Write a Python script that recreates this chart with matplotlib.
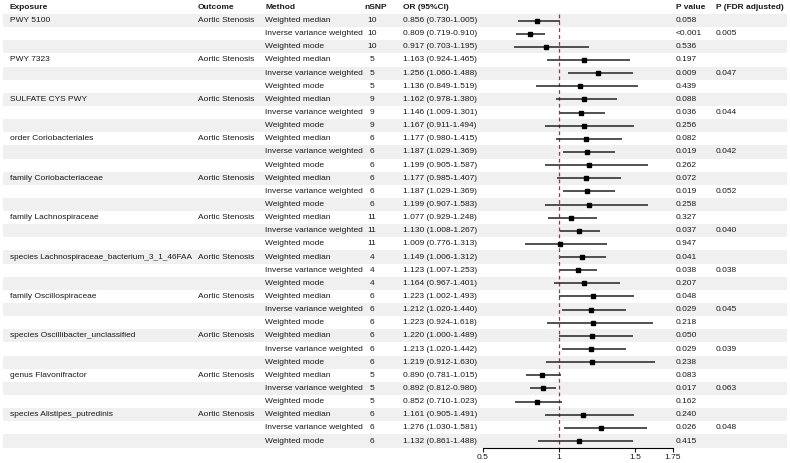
import matplotlib
matplotlib.use("Agg")
import matplotlib.pyplot as plt
import numpy as np

plt.rcParams['font.family'] = ['Liberation Sans', 'DejaVu Sans']

# data
exposures = ["PWY 5100", "PWY 7323", "SULFATE CYS PWY", "order Coriobacteriales",
             "family Coriobacteriaceae", "family Lachnospiraceae",
             "species Lachnospiraceae_bacterium_3_1_46FAA", "family Oscillospiraceae",
             "species Oscillibacter_unclassified", "genus Flavonifractor",
             "species Alistipes_putredinis"]
outcome = "Aortic Stenosis"
methods = ["Weighted median", "Inverse variance weighted", "Weighted mode"]
nsnp = [10, 5, 9, 6, 6, 11, 4, 6, 6, 5, 6]

or_est = [0.856, 0.809, 0.917, 1.163, 1.256, 1.136, 1.162, 1.146, 1.167,
          1.177, 1.187, 1.199, 1.177, 1.187, 1.199, 1.077, 1.130, 1.009,
          1.149, 1.123, 1.164, 1.223, 1.212, 1.223, 1.220, 1.213, 1.219,
          0.890, 0.892, 0.852, 1.161, 1.276, 1.132]
ci_low = [0.730, 0.719, 0.703, 0.924, 1.060, 0.849, 0.978, 1.009, 0.911,
          0.980, 1.029, 0.905, 0.985, 1.029, 0.907, 0.929, 1.008, 0.776,
          1.006, 1.007, 0.967, 1.002, 1.020, 0.924, 1.000, 1.020, 0.912,
          0.781, 0.812, 0.710, 0.905, 1.030, 0.861]
ci_high = [1.005, 0.910, 1.195, 1.465, 1.488, 1.519, 1.380, 1.301, 1.494,
           1.415, 1.369, 1.587, 1.407, 1.369, 1.583, 1.248, 1.267, 1.313,
           1.312, 1.253, 1.401, 1.493, 1.440, 1.618, 1.489, 1.442, 1.630,
           1.015, 0.980, 1.023, 1.491, 1.581, 1.488]
pval = ["0.058", "<0.001", "0.536", "0.197", "0.009", "0.439", "0.088", "0.036", "0.256",
        "0.082", "0.019", "0.262", "0.072", "0.019", "0.258", "0.327", "0.037", "0.947",
        "0.041", "0.038", "0.207", "0.048", "0.029", "0.218", "0.050", "0.029", "0.238",
        "0.083", "0.017", "0.162", "0.240", "0.026", "0.415"]
p_fdr = ["0.005", "0.047", "0.044", "0.042", "0.052", "0.040", "0.038", "0.045",
         "0.039", "0.063", "0.048"]

W, H = 790, 463
pitch = 13.14
y0 = 7.4
nrows = len(or_est)

fig = plt.figure(figsize=(W / 100, H / 100), dpi=100)

# table axes: x in pixels, y in rows
tab = fig.add_axes([0, 0, 1, 1])
tab.set_xlim(0, W)
tab.set_ylim((H - y0) / pitch, -y0 / pitch)
tab.axis("off")

fs = 6.0
tc = "#1a1a1a"
for i in range(1, nrows + 1, 2):
    tab.axhspan(i - 0.5, i + 0.5, xmin=3 / W, xmax=787 / W, color="#eff0ef", lw=0, zorder=0)

col_x = {"Exposure": 10, "Outcome": 198, "Method": 265, "nSNP": 364,
         "OR (95%CI)": 403, "P value": 676, "P (FDR adjusted)": 716}
for name, x in col_x.items():
    tab.text(x, 0, name, fontsize=fs, fontweight="bold", va="center", ha="left", color=tc)

renderer = fig.canvas.get_renderer()
for g, expo in enumerate(exposures):
    for m, meth in enumerate(methods):
        k = g * 3 + m
        r = k + 1
        if m == 0:
            t = tab.text(col_x["Exposure"], r, expo, fontsize=fs, va="center", color=tc)
            # long names: shrink so they stay clear of the Outcome column
            w = t.get_window_extent(renderer).width
            if w > 184:
                t.set_fontsize(fs * 184 / w)
            tab.text(col_x["Outcome"], r, outcome, fontsize=fs, va="center", color=tc)
        tab.text(col_x["Method"], r, meth, fontsize=fs, va="center", color=tc)
        tab.text(372, r, str(nsnp[g]), fontsize=fs, va="center", ha="center", color=tc)
        label = "%.3f (%.3f-%.3f)" % (or_est[k], ci_low[k], ci_high[k])
        tab.text(col_x["OR (95%CI)"], r, label, fontsize=fs, va="center", color=tc)
        tab.text(col_x["P value"], r, pval[k], fontsize=fs, va="center", color=tc)
        if m == 1:
            tab.text(col_x["P (FDR adjusted)"], r, p_fdr[g], fontsize=fs, va="center", color=tc)

# forest axes
axis_y = 448
ax = fig.add_axes([483 / W, (H - axis_y) / H, 190 / W, axis_y / H])
ax.patch.set_alpha(0)
ax.set_xlim(0.5, 1.75)
ax.set_ylim((axis_y - y0) / pitch, -y0 / pitch)
for s in ["top", "right", "left"]:
    ax.spines[s].set_visible(False)
ax.spines["bottom"].set_linewidth(0.8)
ax.set_yticks([])
ax.set_xticks([0.5, 1, 1.5, 1.75])
ax.set_xticklabels(["0.5", "1", "1.5", "1.75"])
ax.tick_params(axis="x", length=3, width=0.8, labelsize=fs, pad=1, colors=tc)

rows = np.arange(1, nrows + 1)
ax.vlines(1, 0.5, (axis_y - y0) / pitch, colors="#d62020", linestyles=(0, (3, 2.5)), lw=0.9)
ax.hlines(rows, ci_low, ci_high, colors="#222222", lw=1.1)
ax.plot(or_est, rows, "s", color="black", ms=3.2, ls="none")

fig.savefig("out.png", dpi=100)
